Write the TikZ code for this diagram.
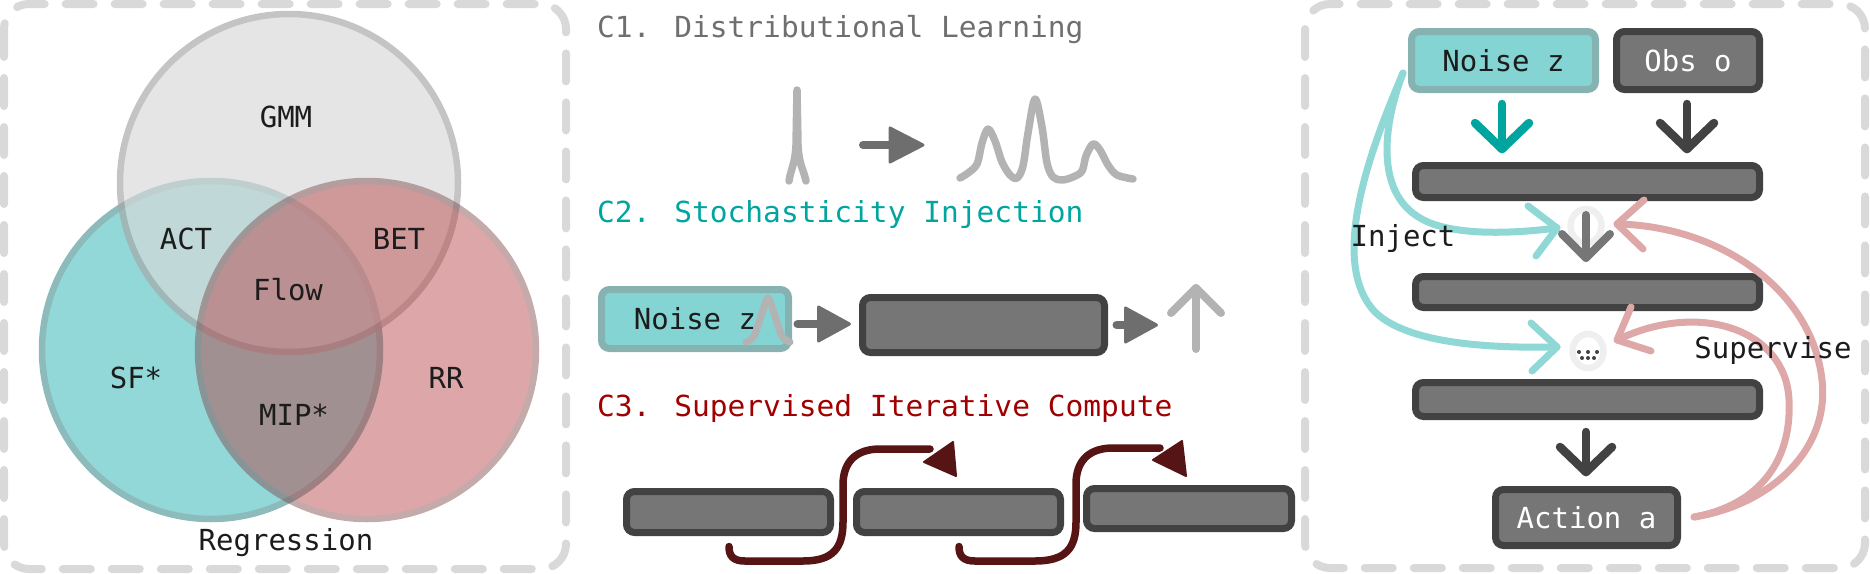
\documentclass[tikz,border=0pt]{standalone}
\usepackage{fontspec}
\setmonofont{DejaVu Sans Mono}
\newfontfamily\titlemono{DejaVu Sans Mono}[FakeStretch=1.019]
\usetikzlibrary{calc,shapes.geometric}
\definecolor{dashgray}{HTML}{D9D9D9}
\definecolor{boxfill}{HTML}{767676}
\definecolor{boxborder}{HTML}{424242}
\definecolor{tealfill}{HTML}{84D4D3}
\definecolor{tealborder}{HTML}{86B2B2}
\definecolor{tealink}{HTML}{00A5A0}
\definecolor{cyanline}{HTML}{8FD8D6}
\definecolor{pinkline}{HTML}{DEA8A9}
\definecolor{c1gray}{HTML}{6F6F6F}
\definecolor{c3red}{HTML}{A00000}
\definecolor{loopred}{HTML}{561414}
\definecolor{lightcurve}{HTML}{B3B3B3}
\definecolor{arrowgray}{HTML}{6E6E6E}
\definecolor{ringgray}{HTML}{EFEFEF}
\definecolor{ink}{HTML}{1C1C1C}
\definecolor{vteal}{HTML}{93D8D8}
\definecolor{vtealS}{HTML}{8DBABA}
\definecolor{vgray}{HTML}{D8D8D8}
\definecolor{vgrayS}{HTML}{A7A7A7}
\definecolor{vpink}{HTML}{B43A3E}
\definecolor{vpinkS}{HTML}{7C4345}
\newcommand{\myfont}{\ttfamily\fontsize{29}{32}\selectfont}
\newcommand{\mytitlefont}{\titlemono\fontsize{29}{32}\selectfont}
\begin{document}
\begin{tikzpicture}[x=1pt,y=-1pt,
  panel/.style={draw=dashgray, line width=8pt, dash pattern=on 28pt off 21pt, line cap=round, rounded corners=25pt},
  graybox/.style={draw=boxborder, fill=boxfill, line width=7pt, rounded corners=8pt, inner sep=0pt, outer sep=0pt, text=white, font=\myfont},
  tealbox/.style={draw=tealborder, fill=tealfill, line width=7pt, rounded corners=8pt, inner sep=0pt, outer sep=0pt, text=ink, font=\myfont},
  lbl/.style={font=\myfont, text=ink, inner sep=0pt, anchor=base},
  title/.style={font=\mytitlefont, inner sep=0pt, anchor=base west},
  fatshaft/.style={draw=arrowgray, line width=8pt, line cap=round},
  fathead/.style={fill=arrowgray, draw=arrowgray, line width=3pt, line join=round},
  chev/.style={line width=8pt, line cap=round, line join=round},
  softline/.style={draw=lightcurve, line width=7.5pt, line cap=round, line join=round},
  loopline/.style={draw=loopred, line width=7.5pt, line cap=round},
  loophead/.style={fill=loopred, draw=loopred, line width=2pt, line join=round},
  ring/.style={draw=ringgray, line width=6.5pt, ellipse, minimum width=31pt, minimum height=34pt, inner sep=0pt},
]
\useasboundingbox (0,0) rectangle (1870,573);

% ---------- panels ----------
\draw[panel] (4,4) rectangle (566,569);
\draw[panel] (1305,4) rectangle (1865,568);

% ---------- Venn ----------
\draw[draw=vtealS, fill=vteal, line width=6.5pt] (211,350) circle[radius=169pt];
\begin{scope}[transparency group, opacity=0.67]
  \draw[draw=vgrayS, fill=vgray, line width=6.5pt] (289,183) circle[radius=169pt];
\end{scope}
\begin{scope}[transparency group, opacity=0.45]
  \draw[draw=vpinkS, fill=vpink, line width=6.5pt] (367,350) circle[radius=169pt];
\end{scope}
\node[lbl] (gmm) at (286,127) {GMM};
\node[lbl] (act) at (186,249) {ACT};
\node[lbl] (bet) at (399,249) {BET};
\node[lbl] (flow) at (288,300) {Flow};
\node[lbl] (sf) at (136,388) {SF*};
\node[lbl] (rr) at (446,388) {RR};
\node[lbl] (mip) at (294,425) {MIP*};
\node[lbl] (reg) at (286,550) {Regression};

% ---------- C1 ----------
\node[title, text=c1gray] (c1) at (597,37) {C1. Distributional Learning};
\draw[softline] (789,181) .. controls (791,168) and (795,165) .. (796,145) -- (797,90) -- (798,145) .. controls (799,165) and (803,168) .. (806,181);
\coordinate (c1s) at (863,145);
\coordinate (c1t) at (923,145);
\draw[fatshaft] (c1s) -- ($(c1t)+(-30,0)$);
\draw[fathead] ($(c1t)+(-33,-17)$) -- (c1t) -- ($(c1t)+(-33,17)$) -- cycle;
\draw[softline] plot[smooth, tension=0.55] coordinates {(960,178) (968,173) (977,164) (982,143) (988,129) (995,141) (1002,162) (1010,175) (1017,178) (1023,166) (1028,133) (1035,99) (1042,127) (1047,163) (1053,177) (1062,180) (1073,177) (1082,171) (1086,156) (1093,144) (1100,150) (1108,165) (1117,175) (1133,179)};

% ---------- C2 ----------
\node[title, text=tealink] (c2) at (597,222) {C2. Stochasticity Injection};
\node[tealbox, minimum width=187pt, minimum height=59pt] (noise1) at (695,319) {Noise z\hspace{2pt}};
\draw[softline, line width=7pt] plot[smooth, tension=0.6] coordinates {(746,342) (754,336) (762,313) (768,298) (774,313) (782,336) (790,342)};
\node[graybox, minimum width=242pt, minimum height=55pt] (mid) at (983.5,325) {};
\coordinate (a1s) at ($(noise1.east)+(9,5)$);
\coordinate (a1t) at ($(mid.west)+(-13,-1)$);
\draw[fatshaft] (a1s) -- ($(a1t)+(-30,0)$);
\draw[fathead] ($(a1t)+(-31,-17)$) -- (a1t) -- ($(a1t)+(-31,17)$) -- cycle;
\coordinate (a2s) at ($(mid.east)+(12,0)$);
\coordinate (a2t) at ($(mid.east)+(52,0)$);
\draw[fatshaft] (a2s) -- ($(a2t)+(-28,0)$);
\draw[fathead] ($(a2t)+(-31,-17)$) -- (a2t) -- ($(a2t)+(-31,17)$) -- cycle;
\coordinate (ub) at (1196,349);
\coordinate (ut) at (1196,288);
\draw[chev, draw=lightcurve] (ub) -- (ut);
\draw[chev, draw=lightcurve] ($(ut)+(-25,25)$) -- (ut) -- ($(ut)+(25,25)$);

% ---------- C3 ----------
\node[title, text=c3red] (c3) at (597,416) {C3. Supervised Iterative Compute};
\node[graybox, minimum width=204pt, minimum height=41pt] (b1) at (728.5,512) {};
\node[graybox, minimum width=204pt, minimum height=41pt] (b2) at (958.5,512) {};
\node[graybox, minimum width=205pt, minimum height=40pt] (b3) at (1189,508.5) {};
\coordinate (l1s) at ($(b1.south)+(0.5,14)$);
\coordinate (l1e) at (930,449);
\draw[loopline] (l1s) .. controls (729,556) and (733,561) .. (745,561) -- (803,561) .. controls (833,561) and (843,548) .. (843,522) -- (843,485) .. controls (843,460) and (858,449) .. (880,449) -- (l1e);
\draw[loophead] (924,462) -- (953,442) -- (956,476) -- cycle;
\coordinate (l2s) at ($(b2.south)+(0.5,14)$);
\coordinate (l2e) at (1160,448);
\draw[loopline] (l2s) .. controls (959,556) and (963,561) .. (975,561) -- (1035,561) .. controls (1066,561) and (1076,548) .. (1076,522) -- (1076,484) .. controls (1076,459) and (1091,448) .. (1113,448) -- (l2e);
\draw[loophead] (1153,460) -- (1182,441) -- (1186,476) -- cycle;

% ---------- right panel ----------
\node[tealbox, minimum width=184pt, minimum height=58pt] (noise2) at (1503.5,60.5) {Noise z};
\node[graybox, minimum width=143pt, minimum height=58pt] (obs) at (1688,60.5) {Obs o};
\node[graybox, minimum width=344pt, minimum height=32pt] (bar1) at (1587.5,181.5) {};
\node[graybox, minimum width=344pt, minimum height=31pt] (bar2) at (1587.5,292) {};
\node[graybox, minimum width=344pt, minimum height=34pt] (bar3) at (1587.5,399.5) {};
\node[graybox, minimum width=182pt, minimum height=56pt] (act2) at (1586.5,517.5) {Action a};

% down arrows into bar1
\coordinate (tz1) at (1502,104);
\coordinate (tz2) at (1502,149);
\draw[chev, draw=tealink, line width=8.5pt] (tz1) -- (tz2);
\draw[chev, draw=tealink, line width=8.5pt] ($(tz2)+(-27,-26)$) -- (tz2) -- ($(tz2)+(27,-26)$);
\coordinate (to1) at (1687,104);
\coordinate (to2) at (1687,149);
\draw[chev, draw=boxborder, line width=8.5pt] (to1) -- (to2);
\draw[chev, draw=boxborder, line width=8.5pt] ($(to2)+(-27,-26)$) -- (to2) -- ($(to2)+(27,-26)$);

% ring 1 and step arrow
\node[ring] (ring1) at (1586,226) {};
\coordinate (g1) at (1586,215);
\coordinate (g2) at (1586,258);
\draw[chev, draw=boxfill] (g1) -- (g2);
\draw[chev, draw=boxfill] ($(g2)+(-24,-24)$) -- (g2) -- ($(g2)+(24,-24)$);

% ring 2 with dots
\node[ring] (ring2) at (1588,351) {};
\foreach \px/\py in {1579/352,1588/352,1597/352,1582/358,1588/358,1594/358}
  \fill[boxborder] (\px,\py) circle[radius=2pt];

% last arrow to action
\coordinate (h1) at (1586,432);
\coordinate (h2) at (1586,472);
\draw[chev, draw=boxborder, line width=8.5pt] (h1) -- (h2);
\draw[chev, draw=boxborder, line width=8.5pt] ($(h2)+(-26,-25)$) -- (h2) -- ($(h2)+(26,-25)$);

% inject curves
\coordinate (inj) at (1403,73);
\coordinate (ci1) at (1557,228);
\coordinate (ci2) at (1557,347);
\draw[line width=7pt, draw=cyanline, line cap=round] (inj) .. controls (1383,125) and (1375,192) .. (1420,218) .. controls (1450,236) and (1510,234) .. (ci1);
\draw[chev, line width=7pt, draw=cyanline] (1528,206) -- (ci1) -- (1536,256);
\draw[line width=7pt, draw=cyanline, line cap=round] (inj) .. controls (1370,150) and (1328,262) .. (1375,312) .. controls (1410,346) and (1500,348) .. (ci2);
\draw[chev, line width=7pt, draw=cyanline] (1531,323) -- (ci2) -- (1532,371);

% supervise curves
\coordinate (sup) at (1694,517);
\coordinate (cs1) at (1617,224);
\coordinate (cs2) at (1617,340);
\draw[line width=7pt, draw=pinkline, line cap=round] (sup) .. controls (1770,505) and (1830,450) .. (1822,380) .. controls (1812,290) and (1720,226) .. (cs1);
\draw[chev, line width=7pt, draw=pinkline] (1644,200) -- (cs1) -- (1643,249);
\draw[line width=7pt, draw=pinkline, line cap=round] (sup) .. controls (1760,505) and (1792,460) .. (1789,400) .. controls (1786,330) and (1700,300) .. (cs2);
\draw[chev, line width=7pt, draw=pinkline] (1631,307) -- (cs2) -- (1651,351);

\node[lbl] (injlbl) at (1403,246) {Inject};
\node[lbl] (suplbl) at (1773,358) {Supervise};
\end{tikzpicture}
\end{document}
